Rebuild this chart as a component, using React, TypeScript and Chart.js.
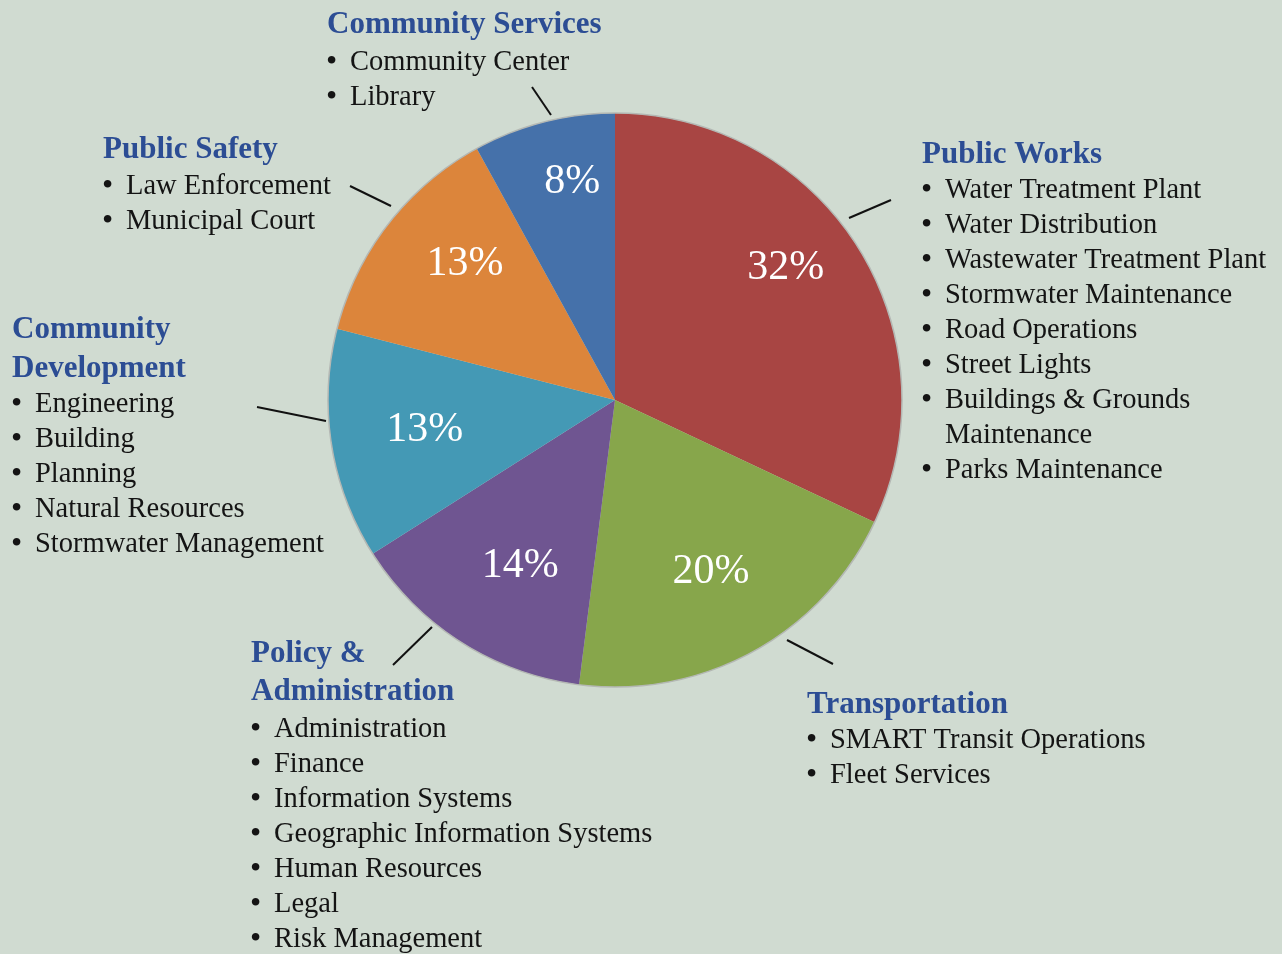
import React, { useEffect, useRef } from "react";
import { Chart, registerables } from "chart.js";
Chart.register(...registerables);

// ---- data ----
const categories = [
  "Public Works",
  "Transportation",
  "Policy & Administration",
  "Community Development",
  "Public Safety",
  "Community Services",
];
const shares = [32, 20, 14, 13, 13, 8];
const percentLabels = ["32%", "20%", "14%", "13%", "13%", "8%"];
const sliceColors = ["#a84543", "#87a64b", "#6f5591", "#4499b5", "#dc853b", "#4571aa"];

const headings = [
  ["Public Works"],
  ["Transportation"],
  ["Policy &", "Administration"],
  ["Community", "Development"],
  ["Public Safety"],
  ["Community Services"],
];
const publicWorksItems = [
  "Water Treatment Plant",
  "Water Distribution",
  "Wastewater Treatment Plant",
  "Stormwater Maintenance",
  "Road Operations",
  "Street Lights",
  "Buildings & Grounds\nMaintenance",
  "Parks Maintenance",
];
const transportationItems = ["SMART Transit Operations", "Fleet Services"];
const policyItems = [
  "Administration",
  "Finance",
  "Information Systems",
  "Geographic Information Systems",
  "Human Resources",
  "Legal",
  "Risk Management",
];
const communityDevItems = [
  "Engineering",
  "Building",
  "Planning",
  "Natural Resources",
  "Stormwater Management",
];
const publicSafetyItems = ["Law Enforcement", "Municipal Court"];
const communityServicesItems = ["Community Center", "Library"];
const itemLists = [
  publicWorksItems,
  transportationItems,
  policyItems,
  communityDevItems,
  publicSafetyItems,
  communityServicesItems,
];

// ---- layout (styles/positions of annotations) ----
const W = 1282;
const H = 954;
const BG = "#d0dbd1";
const HEAD_COLOR = "#2c4d94";
const TEXT_COLOR = "#141414";
const FONT = "'Liberation Serif', 'Times New Roman', serif";
const blockX = [922, 807, 251, 12, 103, 327];
const headBaselines = [[163], [713], [662, 700], [338, 377], [158], [33]];
const itemStart = [198, 748, 737, 412, 194, 70];
const LINE = 35;
const INDENT = 23;
const leaderLines = [
  [849, 218, 891, 200],
  [787, 640, 833, 664],
  [432, 627, 393, 665],
  [326, 421, 257, 407],
  [391, 206, 350, 186],
  [551, 115, 532, 87],
];
const labelRadiusFrac = [0.756, 0.68, 0.66, 0.67, 0.71, 0.78];
const labelAngleShiftDeg = [-5.7, -0.7, -2.4, 0.6, 4.8, 3.4];

const annotationPlugin = {
  id: "annotations",
  afterDatasetsDraw(chart: any) {
    const ctx = chart.ctx;
    const meta = chart.getDatasetMeta(0);
    const first = meta.data[0];
    if (!first) return;
    const { x, y, outerRadius } = first.getProps(["x", "y", "outerRadius"], true);
    ctx.save();
    ctx.beginPath();
    ctx.arc(x, y, outerRadius, 0, Math.PI * 2);
    ctx.strokeStyle = "#b4b8b4";
    ctx.lineWidth = 1.5;
    ctx.stroke();
    ctx.restore();

    // percent labels
    ctx.save();
    ctx.fillStyle = "#ffffff";
    ctx.font = `42px ${FONT}`;
    ctx.textAlign = "center";
    ctx.textBaseline = "middle";
    meta.data.forEach((el: any, i: number) => {
      const p = el.getProps(["x", "y", "startAngle", "endAngle", "outerRadius"], true);
      const a = (p.startAngle + p.endAngle) / 2 + (labelAngleShiftDeg[i] * Math.PI) / 180;
      const r = p.outerRadius * labelRadiusFrac[i];
      ctx.fillText(percentLabels[i], p.x + r * Math.cos(a), p.y + r * Math.sin(a) + 2);
    });
    ctx.restore();
  },
  afterDraw(chart: any) {
    const ctx = chart.ctx;
    ctx.save();
    // leader lines
    ctx.strokeStyle = "#111111";
    ctx.lineWidth = 2;
    leaderLines.forEach(([x1, y1, x2, y2]) => {
      ctx.beginPath();
      ctx.moveTo(x1, y1);
      ctx.lineTo(x2, y2);
      ctx.stroke();
    });
    ctx.textAlign = "left";
    ctx.textBaseline = "alphabetic";
    categories.forEach((_, i) => {
      const x0 = blockX[i];
      ctx.fillStyle = HEAD_COLOR;
      ctx.font = `bold 31px ${FONT}`;
      headings[i].forEach((h, j) => ctx.fillText(h, x0, headBaselines[i][j]));
      ctx.fillStyle = TEXT_COLOR;
      let yy = itemStart[i];
      itemLists[i].forEach((item) => {
        const parts = item.split("\n");
        ctx.font = `32px ${FONT}`;
        ctx.fillText("\u2022", x0 - 1, yy + 1);
        ctx.font = `28.5px ${FONT}`;
        parts.forEach((part) => {
          ctx.fillText(part, x0 + INDENT, yy);
          yy += LINE;
        });
      });
    });
    ctx.restore();
  },
};

export default function App() {
  const canvasRef = useRef<HTMLCanvasElement | null>(null);
  useEffect(() => {
    if (!canvasRef.current) return;
    const cx = 615;
    const cy = 400;
    const R = 287;
    const chart = new Chart(canvasRef.current, {
      type: "pie",
      data: {
        labels: categories,
        datasets: [
          {
            data: shares,
            backgroundColor: sliceColors,
            borderWidth: 0,
            hoverOffset: 0,
          },
        ],
      },
      options: {
        animation: false,
        responsive: false,
        devicePixelRatio: 1,
        layout: {
          padding: { left: cx - R, right: W - cx - R, top: cy - R, bottom: H - cy - R },
        },
        plugins: { legend: { display: false }, tooltip: { enabled: false } },
        events: [],
      },
      plugins: [annotationPlugin],
    });
    return () => chart.destroy();
  }, []);
  return (
    <div style={{ position: "absolute", left: 0, top: 0, width: W, height: H, background: BG }}>
      <canvas ref={canvasRef} width={W} height={H} style={{ display: "block" }} />
    </div>
  );
}
